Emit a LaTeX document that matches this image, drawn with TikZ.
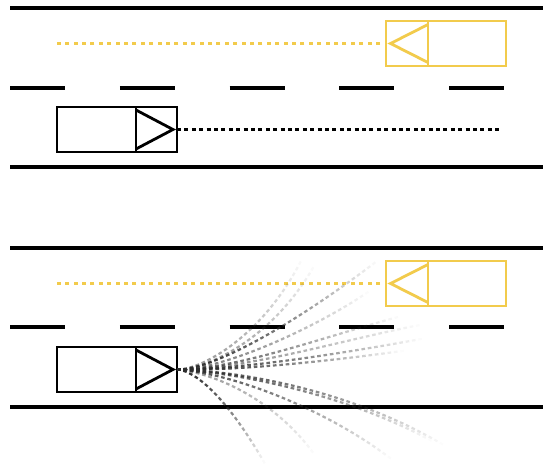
\documentclass[tikz,border=0pt]{standalone}
\usetikzlibrary{decorations.markings}
\definecolor{caryellow}{RGB}{242,203,76}
\definecolor{trajgray}{RGB}{45,45,45}
\tikzset{
  road/.style={line width=4.2pt, black},
  lanedash/.style={line width=4pt, black, dash pattern=on 55pt off 54.75pt},
  carbox/.style={draw, line width=2.3pt, minimum width=120pt, minimum height=45pt, inner sep=0pt, outer sep=0pt},
  egocar/.style={carbox, draw=black},
  othercar/.style={carbox, draw=caryellow},
  arrowtri/.style={line width=2.8pt, line join=miter},
  egopath/.style={line width=2.2pt, black, dash pattern=on 4pt off 3.4pt},
  otherpath/.style={line width=2.2pt, caryellow, dash pattern=on 4pt off 4.4pt},
  traj/.style={decoration={markings,
      mark=between positions 0 and 1 step 6.4pt with {%
        \pgfmathsetmacro\trajs{\pgfkeysvalueof{/pgf/decoration/mark info/distance from start}/\pgfdecoratedpathlength}%
        \pgfmathsetmacro\trajop{#1*(1-\trajs^1.4)}%
        \fill[trajgray, opacity=\trajop] (0pt,-1.1pt) rectangle (3.6pt,1.1pt);}},
      decorate}
}
\begin{document}
\begin{tikzpicture}[x=1pt,y=-1pt]
\useasboundingbox (0,0) rectangle (543,464);
\fill[white] (0,0) rectangle (543,464);

% ---------- top panel ----------
\draw[road] (10,8) -- (543,8);
\draw[road] (10,167) -- (543,167);
\draw[lanedash] (10,88) -- (504,88);

\node[othercar] (oth1) at (446,43.5) {};
\draw[caryellow, line width=2.3pt] (428,21) -- (428,66);
\draw[caryellow, arrowtri] (428,24.5) -- (390.5,43.5) -- (428,62.5);
\coordinate (oth1start) at (54,43.5);
\draw[otherpath] (oth1.west) ++(-6,0) -- (oth1start);

\node[egocar] (ego1) at (117,129.5) {};
\draw[black, line width=2.3pt] (136,107) -- (136,152);
\draw[black, arrowtri] (136,110) -- (173,129.5) -- (136,149);
\coordinate (ego1end) at (502,129.5);
\draw[egopath] (ego1.east) -- (ego1end);

% ---------- bottom panel ----------
\draw[road] (10,248) -- (543,248);
\draw[road] (10,407) -- (543,407);
\draw[lanedash] (10,327) -- (504,327);

\node[othercar] (oth2) at (446,283.5) {};
\draw[caryellow, line width=2.3pt] (428,261) -- (428,306);
\draw[caryellow, arrowtri] (428,264.5) -- (390.5,283.5) -- (428,302.5);
\coordinate (oth2start) at (54,283.5);
\draw[otherpath] (oth2.west) ++(-6,0) -- (oth2start);

\node[egocar] (ego2) at (117,369.5) {};
\draw[black, line width=2.3pt] (136,347) -- (136,392);
\draw[black, arrowtri] (136,350) -- (173,369.5) -- (136,389);

% trajectory end points
\coordinate (u1) at (302,259);
\coordinate (u2) at (314,266);
\coordinate (u3) at (377,261);
\coordinate (u4) at (368,292);
\coordinate (m1) at (398,317);
\coordinate (m2) at (420,325);
\coordinate (m3) at (421,339);
\coordinate (m4) at (402,351);
\coordinate (d1) at (442,444);
\coordinate (d2) at (430,440);
\coordinate (d3) at (390,458);
\coordinate (d4) at (314,454);
\coordinate (d5) at (264,462);

\path[traj=0.5]  (ego2.east) .. controls (200,370) and (262,338) .. (u1);
\path[traj=0.55] (ego2.east) .. controls (205,370) and (272,340) .. (u2);
\path[traj=0.95] (ego2.east) .. controls (215,370) and (300,320) .. (u3);
\path[traj=0.65] (ego2.east) .. controls (225,370) and (320,325) .. (u4);
\path[traj=0.8]  (ego2.east) .. controls (235,370) and (330,335) .. (m1);
\path[traj=0.6]  (ego2.east) .. controls (245,370) and (350,338) .. (m2);
\path[traj=0.95] (ego2.east) .. controls (240,370) and (350,352) .. (m3);
\path[traj=0.95] (ego2.east) .. controls (235,371) and (330,361) .. (m4);
\path[traj=0.9]  (ego2.east) .. controls (240,371) and (350,390) .. (d1);
\path[traj=0.9]  (ego2.east) .. controls (235,372) and (345,394) .. (d2);
\path[traj=0.85] (ego2.east) .. controls (225,372) and (320,405) .. (d3);
\path[traj=0.5]  (ego2.east) .. controls (215,373) and (275,400) .. (d4);
\path[traj=1.0]  (ego2.east) .. controls (195,371) and (225,395) .. (d5);
\end{tikzpicture}
\end{document}
